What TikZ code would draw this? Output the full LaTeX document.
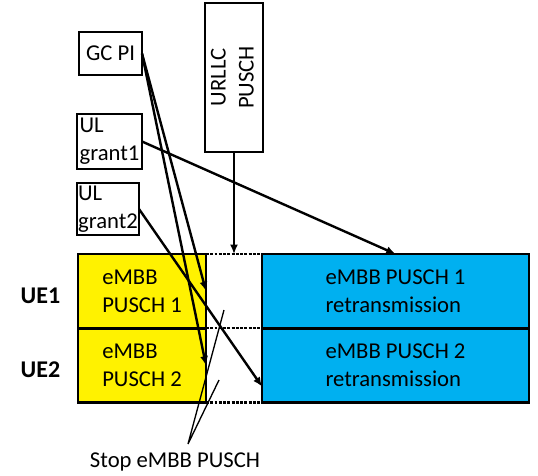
\documentclass[tikz,border=0pt]{standalone}
\usepackage{fontspec}
\setmainfont{Carlito}
\usetikzlibrary{arrows.meta,calc}

\begin{document}
\begin{tikzpicture}[x=0.75pt,y=-0.75pt,
  every node/.style={font=\fontsize{17}{21}\selectfont},
  box/.style={draw,line width=2.2pt,inner sep=0pt,outer sep=0pt},
  conn/.style={line width=1.8pt,-{Latex[length=7pt,width=6pt]}},
  gapline/.style={line width=2.2pt,densely dotted},
  stopline/.style={line width=1pt}]
\useasboundingbox (0,0) rectangle (538,475);
% control boxes
\node[box,minimum width=47.25pt,minimum height=32.25pt] (gcpi) at (110.5,53.5) {GC PI};
\node[box,minimum width=43.5pt,minimum height=111.75pt] (urllc) at (234,77.5)
  {\rotatebox{90}{\begin{tabular}{@{}c@{}}URLLC\\PUSCH\end{tabular}}};
\node[box,align=left,minimum width=48.75pt,minimum height=41.25pt] (g1) at (109.5,141.5) {UL\\grant1};
\node[box,align=left,minimum width=46.5pt,minimum height=39pt] (g2) at (108,209) {UL\\grant2};
% PUSCH blocks
\node[box,fill=yellow,align=left,minimum width=96pt,minimum height=55.5pt] (p1) at (142,291) {eMBB\\PUSCH 1};
\node[box,fill=yellow,align=left,minimum width=96pt,minimum height=55.5pt] (p2) at (142,365.5) {eMBB\\PUSCH 2};
\node[box,fill={rgb,255:red,0;green,176;blue,240},align=left,minimum width=200.25pt,minimum height=55.5pt] (r1) at (395.5,291) {eMBB PUSCH 1\\retransmission};
\node[box,fill={rgb,255:red,0;green,176;blue,240},align=left,minimum width=200.25pt,minimum height=55.5pt] (r2) at (395.5,365.5) {eMBB PUSCH 2\\retransmission};
\node[font=\fontsize{18}{21}\selectfont\bfseries] (ue1) at (40.5,296) {UE1};
\node[font=\fontsize{18}{21}\selectfont\bfseries] (ue2) at (40.5,370) {UE2};
\node (stoptxt) at (175,462) {Stop eMBB PUSCH};
% gap
\draw[gapline] (p1.north east) -- (r1.north west);
\draw[gapline] (p1.south east) -- (r1.south west);
\draw[gapline] (p2.south east) -- (r2.south west);
\coordinate (gaptop) at ($(p1.north east)!0.5!(r1.north west)$);
\coordinate (r2end) at ($(r2.south west)+(0,-16)$);
% arrows
\draw[conn] (urllc.south) -- (gaptop);
\draw[conn] (gcpi.east) -- (p1.east);
\draw[conn] (gcpi.east) -- (p2.east);
\draw[conn] (g1.east) -- (r1.north);
\draw[conn] (g2.east) -- (r2end);
% stop marks
\coordinate (stop) at (188,444);
\coordinate (cut1) at (224,310);
\coordinate (cut2) at (219,380);
\draw[stopline] (cut1) -- (stop) -- (cut2);
\end{tikzpicture}
\end{document}
